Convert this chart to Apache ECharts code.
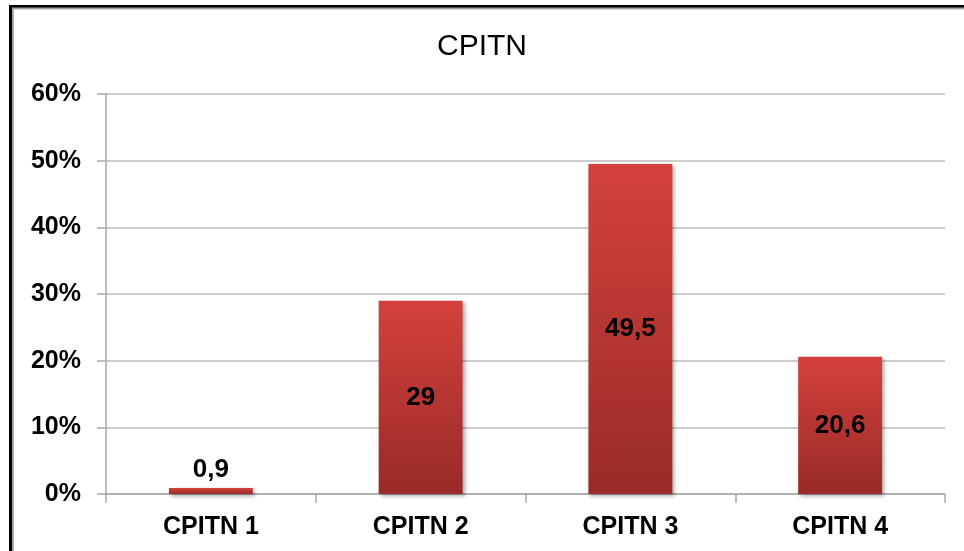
<!DOCTYPE html>
<html>
<head>
<meta charset="utf-8">
<style>
  html, body { margin: 0; padding: 0; background: #ffffff; }
  #chart { width: 964px; height: 551px; }
</style>
<script src="https://cdn.jsdelivr.net/npm/echarts@6/dist/echarts.min.js"></script>
</head>
<body>
<div id="chart"></div>
<script>
// CPITN score distribution (%)
const categories = ['CPITN 1', 'CPITN 2', 'CPITN 3', 'CPITN 4'];
const values = [0.9, 29, 49.5, 20.6];
const yTicks = [0, 10, 20, 30, 40, 50, 60];

const FONT = '"Liberation Sans", Arial, sans-serif';

const chart = echarts.init(document.getElementById('chart'), null, { renderer: 'canvas' });

const barData = values.map(function (v) {
  return {
    value: v,
    label: v < 5
      ? { position: 'top', distance: 5 }
      : { position: 'inside' }
  };
});

chart.setOption({
  backgroundColor: '#ffffff',
  animation: false,
  title: {
    text: 'CPITN',
    left: 'center',
    top: 27,
    textStyle: { fontFamily: FONT, fontSize: 30, fontWeight: 'normal', color: '#000000' }
  },
  graphic: [
    {
      type: 'rect',
      shape: { x: 10.5, y: 6.5, width: 1000, height: 600 },
      style: { fill: null, stroke: '#000000', lineWidth: 3 },
      silent: true
    },
    {
      type: 'rect',
      shape: { x: 13, y: 8.5, width: 1000, height: 600 },
      style: { fill: null, stroke: '#a8a8a8', lineWidth: 2 },
      silent: true
    }
  ],
  grid: { left: 106, right: 19, top: 94, bottom: 57, containLabel: false },
  xAxis: {
    type: 'category',
    data: categories,
    axisLine: { show: true, lineStyle: { color: '#a8a8a8', width: 1.5 } },
    axisTick: { show: true, alignWithLabel: false, length: 9, inside: false, lineStyle: { color: '#a8a8a8', width: 1.5 } },
    axisLabel: { fontFamily: FONT, fontSize: 25, fontWeight: 'bold', color: '#000000', margin: 21 },
    splitLine: { show: false }
  },
  yAxis: {
    type: 'value',
    min: yTicks[0],
    max: yTicks[yTicks.length - 1],
    interval: yTicks[1] - yTicks[0],
    axisLine: { show: true, lineStyle: { color: '#a8a8a8', width: 1.5 } },
    axisTick: { show: true, length: 9, lineStyle: { color: '#a8a8a8', width: 1.5 } },
    axisLabel: {
      fontFamily: FONT, fontSize: 25, fontWeight: 'bold', color: '#000000', margin: 25,
      formatter: '{value}%'
    },
    splitLine: { show: true, lineStyle: { color: '#bcbcbc', width: 1.5 } }
  },
  series: [{
    type: 'bar',
    data: barData,
    barWidth: '40%',
    itemStyle: {
      color: new echarts.graphic.LinearGradient(0, 0, 0, 1, [
        { offset: 0, color: '#d4413c' },
        { offset: 1, color: '#992a27' }
      ]),
      shadowColor: 'rgba(0,0,0,0.35)',
      shadowBlur: 4,
      shadowOffsetX: 2,
      shadowOffsetY: 2
    },
    label: {
      show: true,
      fontFamily: FONT,
      fontSize: 26,
      fontWeight: 'bold',
      color: '#000000',
      formatter: function (p) { return String(p.value).replace('.', ','); }
    }
  }]
});
</script>
</body>
</html>
